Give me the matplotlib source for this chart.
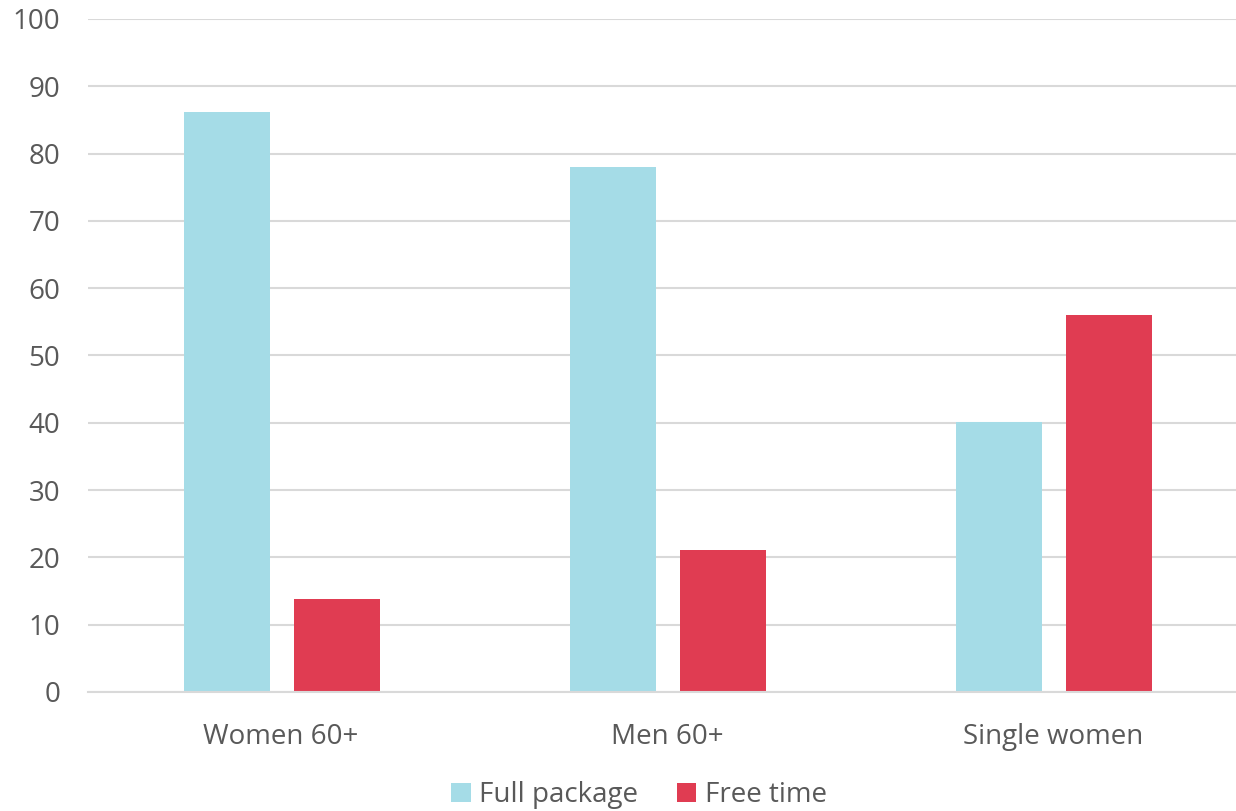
import matplotlib
matplotlib.use("Agg")
import matplotlib.pyplot as plt
import numpy as np

plt.rcParams['font.family'] = ['Open Sans', 'DejaVu Sans']

# Share of respondents choosing each option, by group
groups = ["Women 60+", "Men 60+", "Single women"]
full_package = [86.2, 78.0, 40.1]
free_time = [13.8, 21.1, 56.0]

blue = '#a5dce7'
red = '#e03c52'
text_col = '#595959'
grid_col = '#d9d9d9'

fig = plt.figure(figsize=(12.36, 8.11), dpi=100)
ax = fig.add_axes([88 / 1236, 1 - 692 / 811, (1246 - 88) / 1236, (692 - 19) / 811])

x = np.arange(len(groups))
w = 0.223
off = 0.1427
ax.bar(x - off + 0.003, full_package, w, color=blue, label="Full package", zorder=3)
ax.bar(x + off + 0.003, free_time, w, color=red, label="Free time", zorder=3)

ax.set_xlim(-0.5, 2.5)
ax.set_ylim(0, 100)
ax.set_yticks(range(0, 101, 10))
ax.set_xticks(x)
ax.set_xticklabels(groups)

ax.yaxis.grid(True, color=grid_col, linewidth=1.5, zorder=0)
for side in ['left', 'right', 'top']:
    ax.spines[side].set_visible(False)
ax.spines['bottom'].set_color(grid_col)
ax.spines['bottom'].set_linewidth(1.5)
ax.spines['bottom'].set_zorder(4)

ax.tick_params(axis='y', length=0, pad=20, labelsize=20, labelcolor=text_col)
ax.tick_params(axis='x', length=0, pad=22, labelsize=20, labelcolor=text_col)

fig.legend(loc='center', bbox_to_anchor=(639 / 1236, 1 - 795 / 811), ncol=2,
           frameon=False, fontsize=20, labelcolor=text_col,
           handlelength=0.7, handleheight=0.7, handletextpad=0.3,
           columnspacing=1.4)

fig.savefig('out.png', dpi=100)
